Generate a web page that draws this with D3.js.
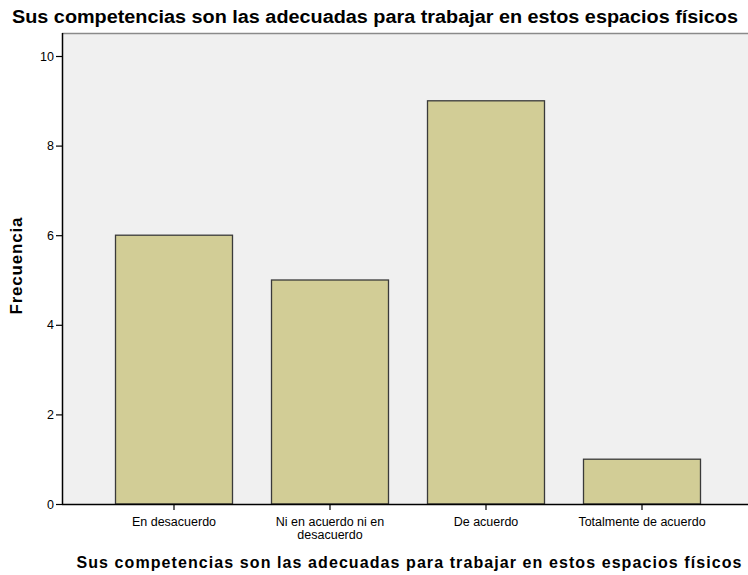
<!DOCTYPE html>
<html><head><meta charset="utf-8">
<script src="https://cdn.jsdelivr.net/npm/d3@7"></script>
<style>body{margin:0;background:#fff}svg{display:block}</style>
</head><body>
<svg id="c" width="748" height="575"></svg>
<script>
const categories = ["En desacuerdo", "Ni en acuerdo ni en desacuerdo", "De acuerdo", "Totalmente de acuerdo"];
const categoryLines = [["En desacuerdo"], ["Ni en acuerdo ni en", "desacuerdo"], ["De acuerdo"], ["Totalmente de acuerdo"]];
const values = [6, 5, 9, 1];
const yTicks = [0, 2, 4, 6, 8, 10];
const titleText = "Sus competencias son las adecuadas para trabajar en estos espacios físicos";
const yTitle = "Frecuencia";

const svg = d3.select("#c");
const pL = 62, pR = 748, pT = 33, pB = 504;
const x = d3.scaleBand().domain(categories).range([96, 720]).paddingInner(0.25).paddingOuter(0.125);
const y = d3.scaleLinear().domain([0, 10]).range([pB, 56]);

svg.append("rect").attr("x", pL).attr("y", pT).attr("width", pR - pL).attr("height", pB - pT).attr("fill", "#f0f0f0");
svg.append("line").attr("x1", pL).attr("x2", pR).attr("y1", pT + 0.5).attr("y2", pT + 0.5).attr("stroke", "#8a8a8a").attr("stroke-width", 1.5);

svg.append("g").selectAll("rect").data(values).join("rect")
  .attr("x", (d, i) => x(categories[i]))
  .attr("width", x.bandwidth())
  .attr("y", d => y(d))
  .attr("height", d => y(0) - y(d))
  .attr("fill", "#d2cd96")
  .attr("stroke", "#3a3a3a")
  .attr("stroke-width", 1.3);

const font = "Liberation Sans, Arial, sans-serif";
const ya = svg.append("g").attr("transform", `translate(${pL},0)`).call(d3.axisLeft(y).tickValues(yTicks).tickSize(6).tickPadding(2).tickFormat(d3.format("d")));
ya.select(".domain").attr("d", `M0.5,${pT}V${pB}`).attr("stroke", "#000").attr("stroke-width", 1.5);
ya.selectAll(".tick line").attr("stroke", "#000").attr("stroke-width", 1.2);
ya.selectAll("text").attr("font-family", font).attr("font-size", 12.5).attr("fill", "#000");

const xa = svg.append("g").attr("transform", `translate(0,${pB})`).call(d3.axisBottom(x).tickSize(6).tickFormat(""));
xa.select(".domain").attr("d", `M${pL},0.5H${pR}`).attr("stroke", "#000").attr("stroke-width", 1.5);
xa.selectAll(".tick line").attr("stroke", "#000").attr("stroke-width", 1.2);
xa.selectAll(".tick").each(function(d, i) {
  const t = d3.select(this).append("text").attr("font-family", font).attr("font-size", 12.5).attr("fill", "#000").attr("text-anchor", "middle").attr("y", 22);
  categoryLines[i].forEach((ln, j) => t.append("tspan").attr("x", 0).attr("dy", j ? 13 : 0).text(ln));
});

svg.append("text").attr("x", 375).attr("y", 23).attr("text-anchor", "middle").attr("font-family", font).attr("font-weight", "bold").attr("font-size", 18).attr("textLength", 726).attr("lengthAdjust", "spacingAndGlyphs").text(titleText);
svg.append("text").attr("x", 409).attr("y", 568).attr("text-anchor", "middle").attr("font-family", font).attr("font-weight", "bold").attr("font-size", 16).attr("textLength", 665).attr("lengthAdjust", "spacing").text(titleText);
svg.append("text").attr("transform", "translate(22,266) rotate(-90)").attr("text-anchor", "middle").attr("font-family", font).attr("font-weight", "bold").attr("font-size", 17).attr("textLength", 97).attr("lengthAdjust", "spacing").text(yTitle);
</script>
</body></html>
